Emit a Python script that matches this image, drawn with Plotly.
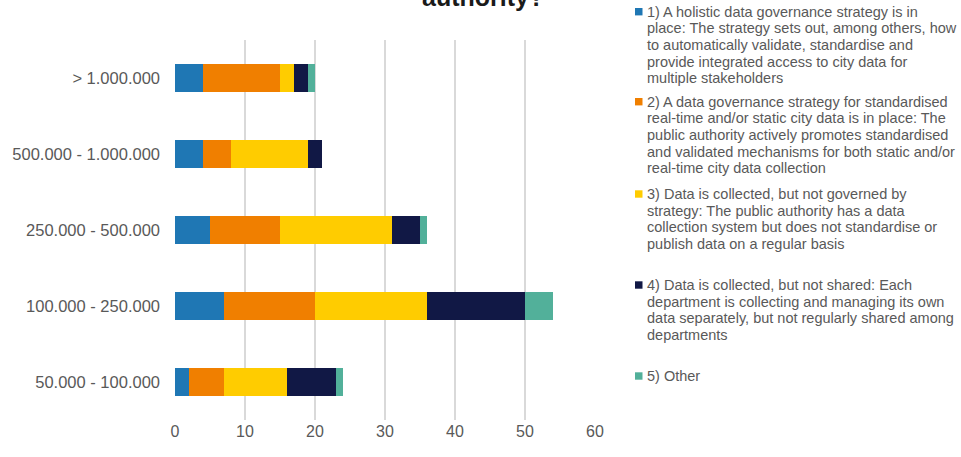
import plotly.graph_objects as go

categories = ["50.000 - 100.000", "100.000 - 250.000", "250.000 - 500.000",
              "500.000 - 1.000.000", "> 1.000.000"]

legend_lines = [
    ["1) A holistic data governance strategy is in",
     "place: The strategy sets out, among others, how",
     "to automatically validate, standardise and",
     "provide integrated access to city data for",
     "multiple stakeholders"],
    ["2) A data governance strategy for standardised",
     "real-time and/or static city data is in place: The",
     "public authority actively promotes standardised",
     "and validated mechanisms for both static and/or",
     "real-time city data collection"],
    ["3) Data is collected, but not governed by",
     "strategy: The public authority has a data",
     "collection system but does not standardise or",
     "publish data on a regular basis"],
    ["4) Data is collected, but not shared: Each",
     "department is collecting and managing its own",
     "data separately, but not regularly shared among",
     "departments"],
    ["5) Other"],
]
series_names = [" ".join(l) for l in legend_lines]

holistic = [2, 7, 5, 4, 4]
standardised = [5, 13, 10, 4, 11]
not_governed = [9, 16, 16, 11, 2]
not_shared = [7, 14, 4, 2, 2]
other = [1, 4, 1, 0, 1]

colors = ["#1F77B4", "#F07F00", "#FFCC00", "#111845", "#52B09A"]

x_ticks = [0, 10, 20, 30, 40, 50, 60]

# layout geometry (pixels)
W, H = 961, 457
L, R, T, B = 175, 366, 40, 37
PW, PH = W - L - R, H - T - B


def px_x(p):
    return (p - L) / PW


def px_y(p):
    return (H - B - p) / PH


fig = go.Figure()
for name, vals, col in zip(series_names, [holistic, standardised, not_governed, not_shared, other], colors):
    fig.add_trace(go.Bar(
        y=categories, x=vals, name=name, orientation="h",
        marker=dict(color=col, line=dict(width=0)),
        showlegend=False,
    ))

fig.update_layout(
    barmode="stack",
    bargap=0.64,
    width=W, height=H,
    margin=dict(l=L, r=R, t=T, b=B, autoexpand=False),
    plot_bgcolor="white", paper_bgcolor="white",
    font=dict(family="Liberation Sans, Arial, sans-serif", color="#595959"),
    xaxis=dict(range=[0, 60], tickvals=x_ticks, showgrid=True, gridcolor="#D9D9D9",
               gridwidth=2, zeroline=False, showline=False, automargin=False,
               tickfont=dict(size=16, color="#595959"), fixedrange=True),
    yaxis=dict(showgrid=False, zeroline=False, showline=False, ticks="", automargin=False,
               tickfont=dict(size=16.5, color="#595959"), ticklabelstandoff=14),
    showlegend=False,
)

# manual legend
first_line_y = [11.7, 101.7, 194, 285, 376]
line_step = 16.67
for lines, col, y0 in zip(legend_lines, colors, first_line_y):
    fig.add_shape(type="rect", xref="paper", yref="paper",
                  x0=px_x(635), x1=px_x(642.5), y0=px_y(y0 + 3.7), y1=px_y(y0 - 3.7),
                  fillcolor=col, line=dict(width=0))
    for i, ln in enumerate(lines):
        fig.add_annotation(text=ln, xref="paper", yref="paper",
                           x=px_x(645), y=px_y(y0 + i * line_step),
                           xanchor="left", yanchor="middle", showarrow=False,
                           font=dict(size=14.5, color="#595959"))

fig.add_annotation(text="<b>authority?</b>", xref="paper", yref="paper",
                   x=px_x(483), y=px_y(-3), xanchor="center", yanchor="middle",
                   showarrow=False, font=dict(size=25, color="#1A1A1A",
                                              family="Liberation Sans, Arial, sans-serif"))

fig.write_html("out.html", config={"displayModeBar": False},
               post_script="document.body.style.margin='0';document.body.style.overflow='hidden';")
